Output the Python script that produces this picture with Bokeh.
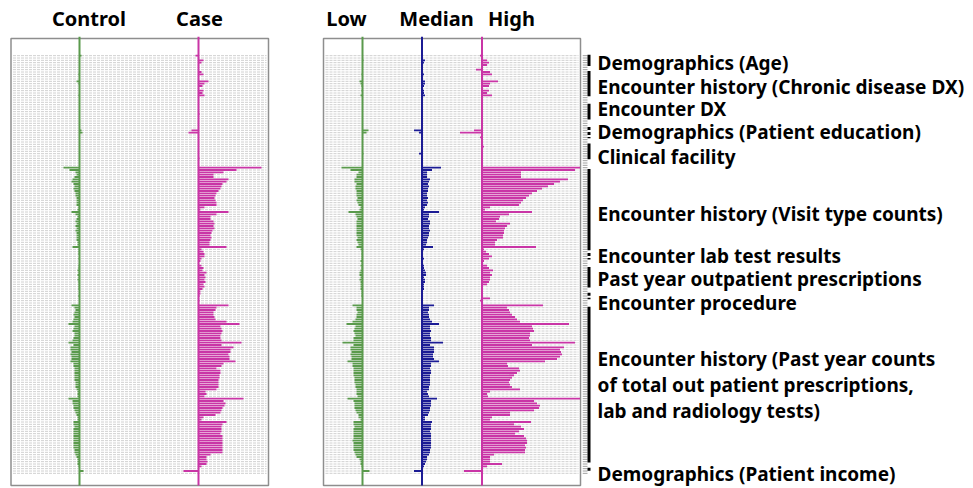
from bokeh.plotting import figure
from bokeh.layouts import row
from bokeh.models import Range1d
from bokeh.embed import file_html
from bokeh.resources import INLINE
from bokeh.core.properties import value

# ---------------- data (feature rows, top to bottom; values in hundredths) ----------------
N_ROWS = 180
rows = list(range(N_ROWS))

control = [
    2, 0, 0, 0, 0, 0, 0, 0, -1, 0,
    0, -3, -1, 0, 0, 0, 0, -1, 0, 0,
    0, 0, 0, 0, 0, 0, 0, 0, 0, 0,
    0, 0, 2, 3, 0, 0, 0, 0, 0, 0,
    0, 0, 0, 0, 0, 0, 0, 0, -16, -10,
    -4, -3, -5, -7, -8, -6, -5, -6, -5, -4,
    -4, -3, -3, -3, -3, -1, -2, -8, -4, -2,
    -3, -4, -3, -4, -3, -4, -3, -3, -3, -3,
    -2, -2, -7, -1, -1, -1, 0, -1, 0, 0,
    -1, -1, -2, -1, -2, -1, -2, -1, -1, -1,
    -1, 0, 0, -1, 0, 0, 0, -8, -5, -4,
    -5, -6, -5, -6, -7, -11, -5, -6, -7, -5,
    -5, -6, -7, -11, -6, -9, -9, -8, -9, -8,
    -8, -9, -6, -6, -5, -5, -5, -5, -5, -5,
    -4, -4, -4, -3, -2, -2, -2, -11, -7, -7,
    -6, -6, -5, -4, -3, -2, -2, -6, -6, -5,
    -6, -6, -6, -6, -6, -6, -6, -6, -6, -5,
    -5, -4, -3, -2, -2, -2, -1, 0, 4, 0,
]

case = [
    -3, 0, 5, 3, 0, 0, 0, 3, 5, 0,
    0, 10, 6, 4, 0, 5, 4, 6, 0, 0,
    0, 0, 0, 0, 0, 1, 0, 0, 0, 0,
    0, 0, -7, -10, 0, 0, 0, 0, 0, 0,
    0, 0, 0, 0, 1, 0, 0, 0, 63, 38,
    25, 15, 15, 30, 28, 24, 23, 22, 20, 18,
    17, 16, 17, 18, 18, 6, 2, 30, 18, 12,
    12, 15, 16, 15, 16, 14, 13, 12, 13, 12,
    11, 11, 28, 3, 5, 6, 6, 3, 2, 0,
    3, 5, 4, 8, 6, 7, 6, 7, 5, 6,
    4, 2, 2, 1, 0, 1, 0, 30, 18, 17,
    15, 15, 16, 17, 28, 41, 22, 23, 24, 23,
    22, 22, 23, 43, 23, 35, 32, 32, 30, 31,
    31, 37, 25, 23, 18, 22, 22, 21, 21, 20,
    20, 20, 20, 18, 7, 8, 6, 45, 25, 27,
    26, 24, 23, 22, 17, 5, 3, 28, 24, 23,
    23, 23, 22, 24, 24, 24, 24, 24, 24, 24,
    24, 12, 8, 8, 9, 8, 3, 0, -15, 0,
]

low = [
    0, 0, 1, 0, 0, 0, 0, 0, -1, 0,
    0, -3, -2, -1, 0, -1, 0, -2, 0, 0,
    0, 0, 0, 0, 0, 0, 0, 0, 0, 0,
    0, 0, 6, 4, 0, 0, 0, 0, 0, 0,
    0, 0, 1, 0, 0, 0, 0, 0, -21, -12,
    -4, -6, -6, -8, -8, -6, -7, -7, -6, -6,
    -6, -5, -6, -5, -4, -2, -3, -14, -7, -6,
    -5, -6, -6, -6, -6, -6, -6, -6, -5, -6,
    -5, -4, -6, -2, -1, -1, -1, -1, -2, -1,
    -2, -1, -2, -3, -3, -2, -3, -2, -2, -2,
    -2, -1, -1, -1, 0, 0, 0, -10, -6, -6,
    -5, -6, -6, -7, -10, -16, -7, -8, -9, -8,
    -7, -9, -9, -20, -9, -12, -12, -11, -12, -11,
    -11, -15, -10, -10, -9, -9, -9, -9, -8, -8,
    -8, -7, -7, -6, -6, -6, -5, -15, -9, -8,
    -8, -8, -7, -6, -4, -4, -2, -9, -9, -8,
    -9, -9, -9, -9, -9, -10, -9, -9, -9, -9,
    -8, -7, -6, -3, -2, -2, -1, 0, 7, 0,
]

median = [
    0, 0, 3, 2, 0, 0, 0, 1, 2, 0,
    0, 3, 3, 2, 0, 2, 2, 3, 0, 0,
    0, 0, 0, 0, 0, 0, 0, 0, 0, 0,
    0, 0, -8, -3, 0, 0, 0, 0, 0, 0,
    0, 0, -3, 0, 0, 0, 0, 0, 19, 10,
    5, 5, 5, 8, 7, 6, 7, 6, 6, 5,
    5, 6, 5, 6, 5, 3, 2, 17, 7, 7,
    6, 8, 8, 7, 7, 8, 7, 7, 6, 5,
    5, 4, 11, 2, 1, 1, 1, 2, 1, 1,
    2, 2, 3, 4, 4, 2, 3, 3, 2, 2,
    2, 1, 1, 1, 0, 0, 0, 12, 7, 7,
    6, 7, 7, 8, 10, 17, 8, 8, 9, 8,
    8, 9, 9, 21, 8, 12, 12, 12, 11, 11,
    12, 17, 9, 9, 8, 9, 9, 8, 8, 8,
    8, 8, 7, 7, 5, 6, 7, 15, 9, 9,
    9, 8, 8, 7, 6, 3, 3, 10, 9, 9,
    9, 8, 9, 9, 9, 9, 9, 9, 9, 8,
    8, 7, 5, 5, 4, 3, 2, 0, -8, 0,
]

high = [
    -2, 0, 5, 7, 5, 0, -6, 8, 10, 0,
    0, 16, 8, 7, 0, 7, 5, 10, 0, 0,
    0, 0, 0, 0, 0, 1, 0, 0, 0, 0,
    0, 0, -8, -22, 0, -2, 0, 0, 0, 2,
    0, 0, 0, 0, 0, 0, 0, 0, 98, 93,
    39, 39, 39, 86, 78, 72, 66, 60, 55, 50,
    47, 44, 41, 39, 37, 8, 3, 50, 27, 18,
    17, 14, 28, 25, 23, 22, 22, 21, 21, 15,
    13, 13, 54, 2, 4, 7, 10, 7, 2, 0,
    5, 7, 11, 8, 10, 8, 8, 7, 5, 1,
    0, 0, -1, 0, 8, -2, 0, 61, 25, 27,
    28, 30, 33, 35, 38, 87, 50, 51, 52, 48,
    48, 47, 48, 93, 50, 82, 78, 79, 80, 78,
    75, 63, 25, 26, 37, 38, 35, 32, 30, 28,
    27, 28, 30, 38, 8, 5, 6, 98, 52, 55,
    58, 57, 52, 28, 28, 10, 8, 49, 32, 39,
    42, 37, 33, 42, 44, 45, 45, 43, 44, 43,
    43, 12, 8, 8, 8, 20, 5, 0, -18, 0,
]

group_names = [
    "Demographics (Age)",
    "Encounter history (Chronic disease DX)",
    "Encounter DX",
    "Demographics (Patient education)",
    "Clinical facility",
    "Encounter history (Visit type counts)",
    "Encounter lab test results",
    "Past year outpatient prescriptions",
    "Encounter procedure",
    "Encounter history (Past year counts\nof total out patient prescriptions,\nlab and radiology tests)",
    "Demographics (Patient income)",
]
group_first = [0, 7, 21, 31, 38, 49, 85, 91, 102, 108, 177]
group_last = [4, 17, 27, 35, 44, 83, 87, 99, 104, 174, 178]

# ---------------- layout / style ----------------
H = 488
PITCH = 420 / N_ROWS          # px per row
TOP0 = 54                     # px of first row edge
yr = Range1d(start=(H - TOP0) / PITCH - 0.5, end=-TOP0 / PITCH - 0.5)

def px_to_row(py):
    return (py - TOP0) / PITCH - 0.5

BOX_T = px_to_row(38)
BOX_B = px_to_row(485)

GREEN = "#5a9a4c"
MAGENTA = "#c935a6"
BLUE = "#1b1b94"
FONT = value("Noto Sans")


def make_panel(width, x_start, series, offsets, colors, titles, title_x, box_l, box_r):
    p = figure(width=width, height=H, x_range=Range1d(x_start, x_start + width / 100),
               y_range=yr, output_backend="svg", toolbar_location=None,
               x_axis_type=None, y_axis_type=None, min_border=0,
               outline_line_color=None, background_fill_color="white",
               border_fill_color="white")
    # dashed row grid
    p.segment(x0=[box_l + 0.02] * N_ROWS, x1=[box_r - 0.02] * N_ROWS, y0=rows, y1=rows,
              line_color="#d0d0d0", line_width=1, line_dash="3 1")
    # box
    p.quad(left=[box_l], right=[box_r], top=[BOX_T], bottom=[BOX_B],
           fill_color=None, line_color="#8e8e8e", line_width=1.5)
    for vals, off, col in zip(series, offsets, colors):
        ys = [r for r, v in zip(rows, vals) if v != 0]
        lefts = [off + min(v, 0) / 100 for v in vals if v != 0]
        rights = [off + max(v, 0) / 100 for v in vals if v != 0]
        p.hbar(y=ys, left=lefts, right=rights, height=0.8,
               fill_color=col, line_color=None)
        p.segment(x0=[off], x1=[off], y0=[BOX_T - 0.8], y1=[BOX_B],
                  line_color=col, line_width=2)
    p.text(x=title_x, y=[px_to_row(18)] * len(titles), text=titles,
           text_align="center", text_baseline="middle", text_font=FONT,
           text_font_style="bold", text_font_size="20px", text_color="black")
    return p


p1 = make_panel(300, -0.79, [control, case], [0, 1.19], [GREEN, MAGENTA],
                ["Control", "Case"], [0.095, 1.20], -0.685, 1.89)
p2 = make_panel(282, -0.62, [low, median, high], [0, 0.595, 1.195],
                [GREEN, BLUE, MAGENTA], ["Low", "Median", "High"],
                [-0.16, 0.74, 1.49], -0.39, 2.18)

# right-hand group annotation panel
p3 = figure(width=391, height=H, x_range=Range1d(0, 391), y_range=yr,
            output_backend="svg", toolbar_location=None,
            x_axis_type=None, y_axis_type=None, min_border=0,
            outline_line_color=None, background_fill_color="white",
            border_fill_color="white")
p3.segment(x0=[0] * N_ROWS, x1=[5] * N_ROWS, y0=rows, y1=rows,
           line_color="#a0a0a0", line_width=1)
solid = [i for i in range(len(group_names)) if i not in (3, 6, 8, 10)]
p3.segment(x0=[6.5] * len(solid), x1=[6.5] * len(solid),
           y0=[group_first[i] - 0.4 for i in solid],
           y1=[group_last[i] + 0.4 for i in solid],
           line_color="black", line_width=3)
dashed = [3, 6, 8, 10]
p3.segment(x0=[6.5] * len(dashed), x1=[6.5] * len(dashed),
           y0=[group_first[i] - 0.4 for i in dashed],
           y1=[group_last[i] + 0.4 for i in dashed],
           line_color="black", line_width=3, line_dash="3 2")

label_px = [62, 86, 108, 131, 156, 213, 255, 278, 302, 384, 473]
lab_text, lab_y = [], []
for name, py in zip(group_names, label_px):
    lines = name.split("\n")
    for k, ln in enumerate(lines):
        lab_text.append(ln)
        lab_y.append(px_to_row(py + (k - (len(lines) - 1) / 2) * 26))
p3.text(x=[15] * len(lab_text), y=lab_y, text=lab_text, text_align="left",
        text_baseline="middle", text_font=FONT, text_font_style="bold",
        text_font_size="19px", text_color="black")

layout = row(p1, p2, p3, spacing=0)
open("out.html", "w").write(file_html(layout, INLINE))
